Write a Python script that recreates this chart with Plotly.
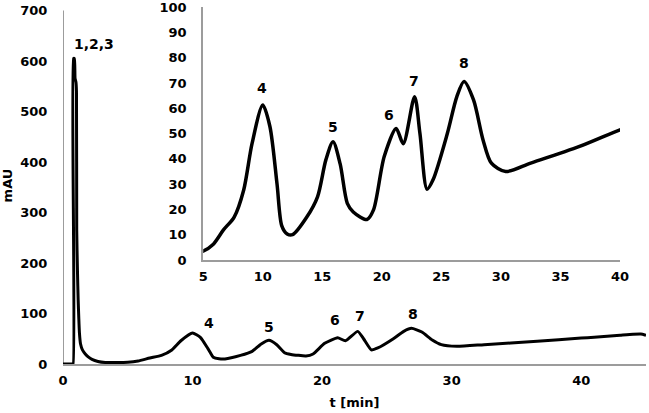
import plotly.graph_objects as go

# ---- data ----
time_min = [0.0, 0.70, 0.78, 0.81, 0.88, 0.93, 1.00, 1.04, 1.06, 1.12, 1.17, 1.22, 1.27, 1.35, 1.5, 1.72,
            2.0, 2.24, 2.7, 3.26, 4.0, 5.0, 5.8, 6.7, 7.6, 8.4, 9.1, 10.0, 10.6, 11.2, 11.6, 12.05, 12.5,
            13.7, 14.6, 15.3, 15.9, 16.5, 17.1, 17.6, 18.75, 19.3, 20.2, 21.2, 21.8, 22.75, 23.2,
            23.8, 24.3, 25.5, 26.3, 26.9, 27.7, 28.5, 29.2, 30.4, 32.5, 36.6, 40.0, 41.0, 42.0,
            43.0, 44.0, 44.6, 45.0]
signal_mau = [0, 0, 0, 605, 605, 566, 558, 540, 265, 180, 127, 90, 61, 40, 28, 20,
              13, 9, 5, 3, 3, 3.5, 6, 11.9, 17, 27.7, 46, 61.3, 52.8, 30, 13.5, 10.3, 10,
              17, 25, 39.6, 46.8, 38, 22.4, 19, 16, 19.8, 40.9, 52, 46, 64.6, 50,
              28, 31.7, 50, 64.6, 70.6, 63.3, 47.5, 38.3, 35, 38.3, 44.9, 51.5, 53, 55,
              57, 59, 59.5, 57]

main_peak_labels = ["1,2,3", "4", "5", "6", "7", "8"]
main_peak_x = [2.4, 11.24, 15.87, 21.0, 22.94, 27.05]
main_peak_y = [634, 82, 74, 87, 95, 99]

inset_peak_labels = ["4", "5", "6", "7", "8"]
inset_peak_x = [9.93, 15.94, 20.56, 22.74, 26.86]
inset_peak_y = [68, 52.7, 57.4, 70.6, 78]

main_x_ticks = [0, 10, 20, 30, 40]
main_y_ticks = [0, 100, 200, 300, 400, 500, 600, 700]
inset_x_ticks = [5, 10, 15, 20, 25, 30, 35, 40]
inset_y_ticks = [0, 10, 20, 30, 40, 50, 60, 70, 80, 90, 100]

FONT = dict(family="DejaVu Sans", size=13, color="black", weight="bold")
LABEL_FONT = dict(family="DejaVu Sans", size=14, color="black", weight="bold")
AXIS_GRAY = "#9c9c9c"

fig = go.Figure()
fig.add_trace(go.Scatter(x=time_min, y=signal_mau, mode="lines",
                         line=dict(color="black", width=3, shape="spline", smoothing=0.5),
                         xaxis="x", yaxis="y", showlegend=False, hoverinfo="skip"))
fig.add_trace(go.Scatter(x=time_min, y=signal_mau, mode="lines",
                         line=dict(color="black", width=3.5, shape="spline", smoothing=0.8),
                         xaxis="x2", yaxis="y2", showlegend=False, hoverinfo="skip"))

for t, x, y in zip(main_peak_labels, main_peak_x, main_peak_y):
    fig.add_annotation(x=x, y=y, xref="x", yref="y", text=t, showarrow=False, font=LABEL_FONT)
for t, x, y in zip(inset_peak_labels, inset_peak_x, inset_peak_y):
    fig.add_annotation(x=x, y=y, xref="x2", yref="y2", text=t, showarrow=False, font=LABEL_FONT)

# main y axis line (only up to 700)
fig.add_shape(type="line", xref="x", yref="y", x0=0, x1=0, y0=0, y1=700,
              line=dict(color=AXIS_GRAY, width=2), layer="below")

common_x = dict(showgrid=False, zeroline=False, showline=True, linecolor=AXIS_GRAY, linewidth=2,
                ticks="outside", ticklen=3, tickcolor="rgba(0,0,0,0)", tickfont=FONT,
                automargin=False)
common_y = dict(showgrid=False, zeroline=False, ticks="outside", ticklen=12,
                tickcolor="rgba(0,0,0,0)", tickfont=FONT, automargin=False,
                ticklabeloverflow="allow")

fig.update_layout(
    width=649, height=413,
    margin=dict(l=63, r=3, t=7, b=49),
    plot_bgcolor="white", paper_bgcolor="white",
    xaxis=dict(range=[0, 45], tickvals=main_x_ticks, domain=[0, 1],
               title=dict(text="t [min]", font=FONT, standoff=11), **common_x),
    yaxis=dict(range=[0, 707], tickvals=main_y_ticks, showline=False,
               title=dict(text="mAU", font=FONT, standoff=4), **common_y),
    xaxis2=dict(range=[5, 40], tickvals=inset_x_ticks, domain=[0.2405, 0.9554],
                anchor="y2", **common_x),
    yaxis2=dict(range=[0, 100.05], tickvals=inset_y_ticks, domain=[0.2913, 1.0],
                anchor="x2", showline=True, linecolor=AXIS_GRAY, linewidth=2, **common_y),
)

fig.write_html("out.html", config={"displayModeBar": False},
               post_script="document.body.style.margin='0px';document.body.style.overflow='hidden';")
